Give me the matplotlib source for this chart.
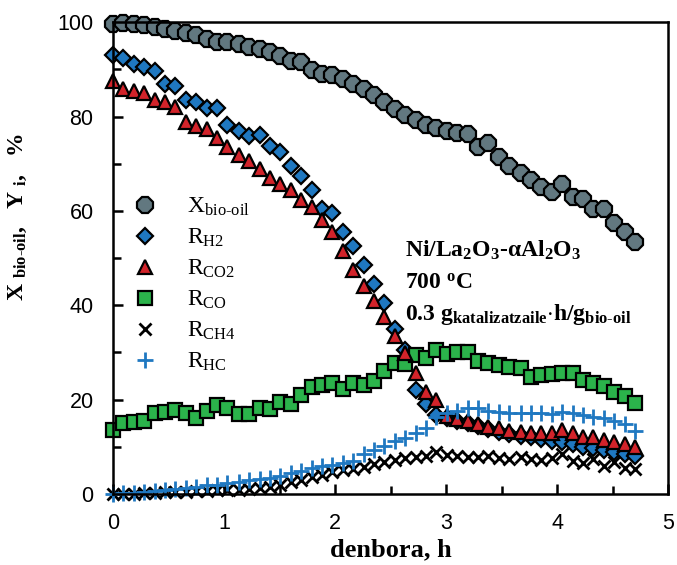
import matplotlib
matplotlib.use("Agg")
import matplotlib.pyplot as plt
from matplotlib.ticker import MultipleLocator
from matplotlib.lines import Line2D

plt.rcParams['mathtext.fontset'] = 'custom'
plt.rcParams['mathtext.rm'] = 'Liberation Serif'
plt.rcParams['mathtext.it'] = 'Liberation Serif:italic'
plt.rcParams['mathtext.bf'] = 'Liberation Serif:bold'

time_h = [0.00, 0.09, 0.19, 0.28, 0.38, 0.47, 0.56, 0.66, 0.75, 0.85, 0.94,
          1.03, 1.13, 1.22, 1.32, 1.41, 1.50, 1.60, 1.69, 1.79, 1.88, 1.97,
          2.07, 2.16, 2.26, 2.35, 2.44, 2.54, 2.63, 2.73, 2.82, 2.91, 3.01,
          3.10, 3.20, 3.29, 3.38, 3.48, 3.57, 3.67, 3.76, 3.85, 3.95, 4.04,
          4.14, 4.23, 4.32, 4.42, 4.51, 4.61, 4.70]

x_biooil = [99.6, 99.8, 99.6, 99.4, 98.9, 98.5, 98.1, 97.7, 97.3, 96.4, 95.8,
            95.7, 95.4, 94.8, 94.3, 93.6, 92.8, 91.7, 91.5, 89.8, 89.0, 88.9,
            88.0, 87.0, 85.8, 84.6, 83.0, 81.5, 80.3, 79.3, 78.2, 77.6, 77.0,
            76.6, 76.2, 73.5, 74.5, 71.5, 69.5, 68.0, 66.5, 65.0, 64.0, 65.6,
            63.0, 62.5, 60.3, 60.5, 57.5, 55.5, 53.5]

r_h2 = [93.0, 92.4, 91.2, 90.5, 89.6, 86.8, 86.4, 83.6, 83.0, 81.9, 81.9,
        78.3, 77.0, 75.8, 76.0, 73.8, 72.5, 69.5, 67.5, 64.5, 60.5, 59.5,
        55.5, 52.5, 48.5, 44.5, 40.5, 35.0, 30.5, 22.0, 19.0, 16.8, 16.0,
        15.5, 15.0, 14.5, 13.8, 13.2, 12.8, 12.3, 12.0, 11.6, 11.3, 11.0,
        10.5, 10.0, 9.7, 9.3, 9.0, 8.5, 8.0]

r_co2 = [87.5, 85.8, 85.4, 85.0, 83.6, 83.0, 82.0, 78.8, 77.9, 77.3, 75.5,
         73.5, 71.8, 70.5, 68.8, 67.0, 65.6, 64.5, 62.3, 60.8, 58.0, 55.5,
         51.5, 47.5, 44.0, 41.0, 37.5, 33.5, 29.8, 25.7, 21.6, 20.0, 16.5,
         15.8, 15.5, 14.8, 14.3, 14.0, 13.3, 13.2, 13.0, 12.9, 12.9, 13.5,
         13.0, 12.0, 12.1, 11.4, 11.0, 10.6, 10.0]

r_co = [13.6, 15.0, 15.3, 15.4, 17.2, 17.3, 17.8, 17.2, 16.1, 17.5, 18.9,
        18.2, 17.0, 17.0, 18.2, 18.0, 19.5, 19.0, 21.0, 22.7, 23.2, 23.5,
        22.3, 23.5, 23.0, 24.0, 26.0, 27.8, 27.6, 29.5, 28.9, 30.6, 29.7,
        30.0, 30.0, 28.2, 27.8, 27.3, 27.0, 26.7, 24.8, 25.3, 25.4, 25.7,
        25.6, 24.2, 23.5, 22.8, 21.6, 20.7, 19.3]

r_ch4 = [0.0, 0.0, 0.1, 0.2, 0.3, 0.4, 0.5, 0.5, 0.6, 0.7, 0.8,
         0.8, 0.9, 1.0, 1.2, 1.5, 2.0, 2.5, 3.0, 3.5, 4.0, 4.6,
         5.0, 5.4, 5.8, 6.3, 6.8, 7.3, 7.6, 7.9, 8.0, 9.0, 8.2,
         8.0, 7.8, 7.9, 8.0, 7.7, 7.5, 7.8, 7.4, 7.2, 7.6, 8.5,
         7.0, 6.5, 7.5, 6.0, 6.8, 5.5, 5.2]

r_hc = [0.0, 0.2, 0.3, 0.5, 0.7, 0.9, 1.0, 1.3, 1.5, 1.8, 2.0,
        2.3, 2.6, 2.9, 3.1, 3.4, 3.9, 4.4, 4.9, 5.5, 5.9, 6.2,
        6.5, 7.0, 8.5, 9.3, 10.2, 11.2, 11.9, 13.0, 14.0, 16.4, 17.2,
        17.6, 18.3, 18.2, 17.6, 17.3, 17.2, 17.2, 17.2, 17.2, 16.9, 17.4,
        17.2, 16.8, 16.4, 16.1, 15.5, 14.8, 13.3]

labels = [r'X$_{\mathrm{bio\text{-}oil}}$', r'R$_{\mathrm{H2}}$', r'R$_{\mathrm{CO2}}$',
          r'R$_{\mathrm{CO}}$', r'R$_{\mathrm{CH4}}$', r'R$_{\mathrm{HC}}$']

fig = plt.figure(figsize=(6.77, 5.65), dpi=100)
ax = fig.add_axes([0.167, 0.1257, 0.820, 0.835])

gray = '#627880'
blue = '#1f78c1'
red = '#d2232a'
green = '#2bb34b'

styles = [
    dict(marker='8', ms=13, mfc=gray, mec='black', mew=1.6),
    dict(marker='D', ms=8, mfc=blue, mec='black', mew=1.6),
    dict(marker='^', ms=10, mfc=red, mec='black', mew=1.6),
    dict(marker='s', ms=10.5, mfc=green, mec='black', mew=1.6),
    dict(marker='x', ms=9, mfc='black', mec='black', mew=2.0),
    dict(marker='+', ms=11, mfc=blue, mec=blue, mew=2.0),
]
series = [x_biooil, r_h2, r_co2, r_co, r_ch4, r_hc]
order = [0, 1, 3, 2, 4, 5]
for i in order:
    ax.plot(time_h, series[i], ls='none', clip_on=False, **styles[i])

handles = [Line2D([], [], ls='none', **s) for s in styles]
leg = ax.legend(handles, labels, loc='upper left', bbox_to_anchor=(0.015, 0.652),
                frameon=False, prop={'family': 'Liberation Serif', 'size': 17},
                handletextpad=1.2, labelspacing=0.37, handlelength=1.2,
                borderaxespad=0)

ax.set_xlim(0, 5)
ax.set_ylim(0, 100)
ax.xaxis.set_major_locator(MultipleLocator(1))
ax.xaxis.set_minor_locator(MultipleLocator(0.5))
ax.yaxis.set_major_locator(MultipleLocator(20))
ax.yaxis.set_minor_locator(MultipleLocator(10))
ax.tick_params(which='both', direction='in', top=False, right=False, width=1.8,
               labelsize=15.5)
ax.tick_params(which='major', length=7)
ax.tick_params(which='minor', length=6)
ax.tick_params(axis='y', which='major', pad=14)
ax.tick_params(axis='x', which='major', pad=14)
for lab in ax.get_xticklabels() + ax.get_yticklabels():
    lab.set_family('Liberation Sans')
for sp in ax.spines.values():
    sp.set_linewidth(1.8)

ax.set_xlabel('denbora, h', family='Liberation Serif', fontweight='bold',
              fontsize=19, labelpad=3)
fig.text(0.026, 0.616, r'X $_{\mathbf{bio\text{-}oil}}$,   Y $_{\mathbf{i}}$,   %',
         rotation=90, ha='center', va='center', family='Liberation Serif',
         fontweight='bold', fontsize=17)

tkw = dict(family='Liberation Serif', fontweight='bold', fontsize=17,
           transform=fig.transFigure, ha='left', va='center')
fig.text(0.598, 0.557, r'Ni/La$_{\mathbf{2}}$O$_{\mathbf{3}}$-αAl$_{\mathbf{2}}$O$_{\mathbf{3}}$', **tkw)
fig.text(0.598, 0.499, r'700 $^{\mathbf{o}}$C', **tkw)
fig.text(0.598, 0.443, r'0.3 g$_{\mathbf{katalizatzaile}}$$\cdot$h/g$_{\mathbf{bio\text{-}oil}}$', **tkw)

fig.savefig('out.png', dpi=100)
